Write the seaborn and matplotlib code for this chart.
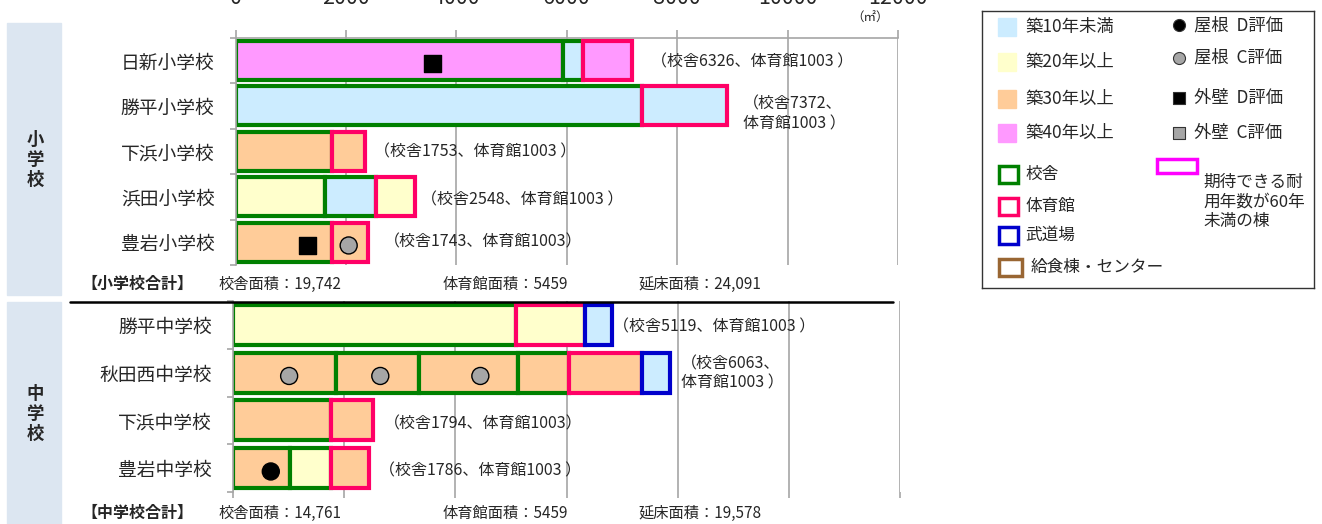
import pandas as pd
import seaborn as sns
import matplotlib.pyplot as plt
import matplotlib.patches as mpatches
from matplotlib.lines import Line2D
import numpy as np

sns.set_style('white')
plt.rcParams['font.family'] = ['Noto Sans CJK JP', 'DejaVu Sans']

W, H = 1322, 524

# colours for building age, outline per building kind
AGE_COLORS = {'10': '#CCECFF', '20': '#FFFFCC', '30': '#FFCC99', '40': '#FF99FF'}
KIND_EDGE = {'校舎': '#008000', '体育館': '#FF0066', '武道場': '#0000CC'}
MARK_COLORS = {'屋根D': 'black', '屋根C': '#A6A6A6', '外壁D': 'black'}
MARK_SHAPES = {'屋根D': 'o', '屋根C': 'o', '外壁D': 's'}
GRID = '#A6A6A6'

# ---- elementary schools ----
elem_schools = ['日新小学校', '勝平小学校', '下浜小学校', '浜田小学校', '豊岩小学校']
elem_seg_school = ['日新小学校', '日新小学校', '日新小学校',
                   '勝平小学校', '勝平小学校',
                   '下浜小学校', '下浜小学校',
                   '浜田小学校', '浜田小学校', '浜田小学校',
                   '豊岩小学校', '豊岩小学校']
elem_seg_len = [5930, 370, 880,
                7360, 1540,
                1740, 600,
                1620, 920, 710,
                1740, 660]
elem_seg_age = ['40', '10', '40',
                '10', '10',
                '30', '30',
                '20', '10', '20',
                '30', '30']
elem_seg_kind = ['校舎', '校舎', '体育館',
                 '校舎', '体育館',
                 '校舎', '体育館',
                 '校舎', '校舎', '体育館',
                 '校舎', '体育館']
elem_mark_school = ['日新小学校', '豊岩小学校', '豊岩小学校']
elem_mark_x = [3560, 1300, 2050]
elem_mark_type = ['外壁D', '外壁D', '屋根C']
elem_notes = ['（校舎6326、体育館1003 ）', '（校舎7372、\n体育館1003 ）', '（校舎1753、体育館1003 ）',
              '（校舎2548、体育館1003 ）', '（校舎1743、体育館1003）']
elem_totals = ['【小学校合計】', '校舎面積：19,742', '体育館面積：5459', '延床面積：24,091']

# ---- junior high schools ----
jhs_schools = ['勝平中学校', '秋田西中学校', '下浜中学校', '豊岩中学校']
jhs_seg_school = ['勝平中学校', '勝平中学校', '勝平中学校',
                  '秋田西中学校', '秋田西中学校', '秋田西中学校', '秋田西中学校', '秋田西中学校', '秋田西中学校',
                  '下浜中学校', '下浜中学校',
                  '豊岩中学校', '豊岩中学校', '豊岩中学校']
jhs_seg_len = [5100, 1240, 480,
               1860, 1490, 1770, 920, 1320, 500,
               1770, 740,
               1030, 740, 670]
jhs_seg_age = ['20', '20', '10',
               '30', '30', '30', '30', '30', '10',
               '30', '30',
               '30', '20', '30']
jhs_seg_kind = ['校舎', '体育館', '武道場',
                '校舎', '校舎', '校舎', '校舎', '体育館', '武道場',
                '校舎', '体育館',
                '校舎', '校舎', '体育館']
jhs_mark_school = ['秋田西中学校', '秋田西中学校', '秋田西中学校', '豊岩中学校']
jhs_mark_x = [1010, 2650, 4450, 680]
jhs_mark_type = ['屋根C', '屋根C', '屋根C', '屋根D']
jhs_notes = ['（校舎5119、体育館1003 ）', '（校舎6063、\n体育館1003 ）', '（校舎1794、体育館1003）',
             '（校舎1786、体育館1003 ）']
jhs_totals = ['【中学校合計】', '校舎面積：14,761', '体育館面積：5459', '延床面積：19,578']


def fx(px):
    return px / W


def fy(py):
    return 1 - py / H


def draw_section(ax, schools, seg_school, seg_len, seg_age, seg_kind,
                 mark_school, mark_x, mark_type, notes, note_dx, note_dy, bar_h):
    pos = {s: i for i, s in enumerate(schools)}
    df = pd.DataFrame({'school': seg_school, 'length': seg_len, 'age': seg_age, 'kind': seg_kind})
    df['left'] = df.groupby('school')['length'].cumsum() - df['length']
    df['pos'] = df['school'].map(pos)

    # school buildings first, then gym and budokan on top
    for z, kind in enumerate(['校舎', '体育館', '武道場']):
        d = df[df['kind'] == kind]
        if d.empty:
            continue
        ax.barh(d['pos'], d['length'], left=d['left'], height=bar_h,
                color=d['age'].map(AGE_COLORS), edgecolor=KIND_EDGE[kind],
                linewidth=3, zorder=2 + z)

    mk = pd.DataFrame({'school': mark_school, 'x': mark_x, 'type': mark_type})
    mk['y'] = mk['school'].map(pos) + 0.07
    sns.scatterplot(data=mk, x='x', y='y', hue='type', style='type',
                    palette=MARK_COLORS, markers=MARK_SHAPES, s=150,
                    edgecolor='black', linewidth=1, legend=False, ax=ax, zorder=6)

    ends = df.groupby('school')['length'].sum()
    for i, s in enumerate(schools):
        ax.annotate(notes[i], xy=(ends[s], i), xytext=(note_dx[i], -note_dy[i]),
                    textcoords='offset pixels', va='center', ha='left',
                    fontsize=11.5, linespacing=1.2, annotation_clip=False)

    ax.set_xlim(0, 12000)
    ax.set_ylim(len(schools) - 0.5, -0.5)
    ax.set_xticks(np.arange(0, 12001, 2000))
    ax.grid(axis='x', color=GRID, lw=1.2)
    ax.grid(axis='y', visible=False)
    ax.set_axisbelow(True)
    ax.set_yticks(range(len(schools)))
    ax.set_yticklabels(schools, fontsize=13.5)
    ax.set_yticks(np.arange(-0.5, len(schools)), minor=True)
    ax.tick_params(axis='y', which='major', left=True, length=0, pad=15)
    ax.tick_params(axis='y', which='minor', left=True, length=4, color=GRID, width=1.2)
    ax.set_xlabel('')
    ax.set_ylabel('')
    for sp in ['right', 'bottom', 'top']:
        ax.spines[sp].set_visible(False)
    ax.spines['left'].set_color(GRID)
    ax.spines['left'].set_linewidth(1.2)


fig = plt.figure(figsize=(W / 100, H / 100), dpi=100)

# grey side bands
fig.add_artist(mpatches.Rectangle((fx(7), fy(295)), fx(54), 272 / H, transform=fig.transFigure,
                                  color='#DCE6F1', zorder=0))
fig.add_artist(mpatches.Rectangle((fx(7), 0), fx(54), 222 / H, transform=fig.transFigure,
                                  color='#DCE6F1', zorder=0))
fig.text(fx(35), fy(160), '小\n学\n校', ha='center', va='center', fontsize=12.5,
         fontweight='bold', linespacing=1.15)
fig.text(fx(35), fy(414), '中\n学\n校', ha='center', va='center', fontsize=12.5,
         fontweight='bold', linespacing=1.15)

# upper axes (elementary)
ax1 = fig.add_axes([fx(235.5), fy(265), 662.5 / W, (265 - 37.7) / H])
draw_section(ax1, elem_schools, elem_seg_school, elem_seg_len, elem_seg_age, elem_seg_kind,
             elem_mark_school, elem_mark_x, elem_mark_type, elem_notes,
             note_dx=[19, 16, 9, 6, 16], note_dy=[2, 8, 1, 3, 0], bar_h=0.86)
ax1.xaxis.tick_top()
ax1.tick_params(axis='x', top=True, labeltop=True, bottom=False, labelbottom=False,
                length=5.5, color=GRID, width=1.2, pad=15, labelsize=15.5)
ax1.spines['top'].set_visible(True)
ax1.spines['top'].set_color(GRID)
ax1.spines['top'].set_linewidth(1.2)
fig.text(fx(870), fy(18), '（㎡）', ha='center', va='center', fontsize=9)

# lower axes (junior high)
ax2 = fig.add_axes([fx(233), fy(492), 667 / W, 191 / H])
draw_section(ax2, jhs_schools, jhs_seg_school, jhs_seg_len, jhs_seg_age, jhs_seg_kind,
             jhs_mark_school, jhs_mark_x, jhs_mark_type, jhs_notes,
             note_dx=[1, 11, 11, 10], note_dy=[2, 1, 4, 3], bar_h=0.84)
ax2.tick_params(axis='x', bottom=True, labelbottom=False, length=4, color=GRID, width=1.2)

# separator line
fig.add_artist(Line2D([fx(70), fx(893)], [fy(302), fy(302)], color='black', lw=1.8))

# totals rows
for totals, ypx in [(elem_totals, 284), (jhs_totals, 513)]:
    fig.text(fx(81), fy(ypx), totals[0], ha='left', va='center', fontsize=11.5, fontweight='bold')
    for t, xpx in zip(totals[1:], [218, 443, 638]):
        fig.text(fx(xpx), fy(ypx), t, ha='left', va='center', fontsize=11)

# legend box drawn by hand, coordinates in pixels inside the box
lg = fig.add_axes([fx(982), fy(288), 332 / W, 277 / H])
lg.set_xlim(0, 332)
lg.set_ylim(277, 0)
lg.set_xticks([])
lg.set_yticks([])
for sp in lg.spines.values():
    sp.set_color('#333333')
    sp.set_linewidth(1)

for (age, label), yc in zip([('10', '築10年未満'), ('20', '築20年以上'), ('30', '築30年以上'), ('40', '築40年以上')],
                            [16, 51, 88, 122]):
    lg.add_patch(mpatches.Rectangle((16, yc - 9), 18, 18, color=AGE_COLORS[age]))
    lg.text(43, yc, label, va='center', fontsize=12.5)

for (fc, mkr, label), yc in zip([('black', 'o', '屋根  D評価'), ('#A6A6A6', 'o', '屋根  C評価'),
                                 ('black', 's', '外壁  D評価'), ('#A6A6A6', 's', '外壁  C評価')],
                                [14, 47, 87, 122]):
    lg.scatter([197], [yc], s=75, c=fc, marker=mkr, edgecolors='#333333', linewidths=0.8)
    lg.text(212, yc, label, va='center', fontsize=12.5)

for (ec, label), (yc, w) in zip([('#008000', '校舎'), ('#FF0066', '体育館'),
                                 ('#0000CC', '武道場'), ('#996633', '給食棟・センター')],
                                [(163, 19), (195, 19), (224, 19), (256, 23)]):
    lg.add_patch(mpatches.Rectangle((17, yc - 8), w, 17, fill=False, edgecolor=ec, linewidth=2.5))
    lg.text(43 if w < 20 else 49, yc, label, va='center', fontsize=12)

lg.add_patch(mpatches.Rectangle((175, 148), 40, 14, fill=False, edgecolor='#FF00FF', linewidth=2.5))
lg.text(221, 191, '期待できる耐\n用年数が60年\n未満の棟', va='center', fontsize=12, linespacing=1.2)

fig.savefig('out.png', dpi=100)
